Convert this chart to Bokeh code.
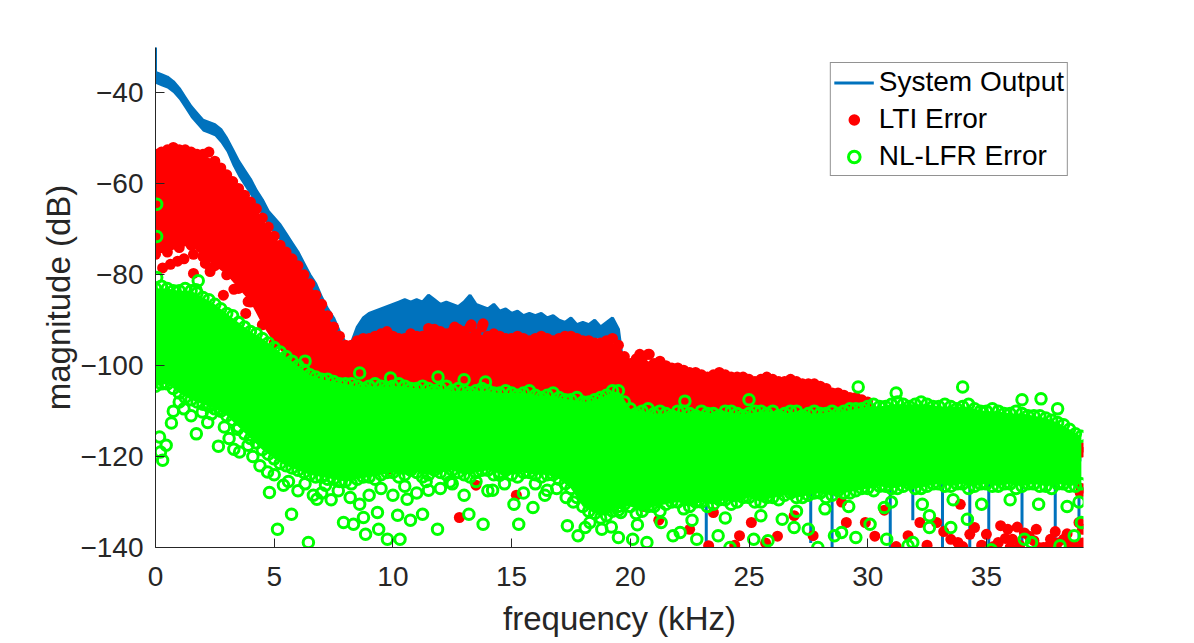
import numpy as np
from bokeh.plotting import figure
from bokeh.models import Range1d, Legend, LegendItem, FixedTicker
from bokeh.embed import file_html
from bokeh.resources import INLINE

# ---------------- data ----------------
x_ticks = [0, 5, 10, 15, 20, 25, 30, 35]
y_ticks = [-140, -120, -100, -80, -60, -40]
y_tick_labels = ["\u2212140", "\u2212120", "\u2212100", "\u221280", "\u221260", "\u221240"]

env_f = np.round(np.arange(0, 39.001, 0.5), 2)      # 79 frequencies (kHz)
mid_f = np.round(np.arange(0.25, 38.8, 0.5), 2)      # 78 frequencies (kHz)
blue_f = np.round(np.arange(0, 39.001, 0.25), 2)     # 157 frequencies (kHz)

# System Output (blue line), upper / lower extent of the dense trace
blue_hi = [
    -35.5, -36, -36.5, -37.5, -39, -41, -43, -44.5, -46, -46.5, -47, -48,
    -50, -52.5, -55, -57, -59, -61.5, -63.5, -66, -67.5, -69, -71, -73,
    -75, -77.5, -80, -82, -85, -87.5, -89.5, -92.5, -95, -95, -91.5, -89.5,
    -88.5, -88, -87.5, -87, -86.5, -86, -85.5, -86, -85.5, -86, -84.5, -85.5,
    -86.5, -86, -86.5, -87, -86, -84.5, -86.5, -87, -87.5, -86.5, -88, -87.5,
    -88.5, -88, -89, -88.5, -89, -88.5, -89.5, -89, -90, -90.5, -89.5, -91,
    -90.5, -91, -90, -91.5, -90.5, -89.5, -92, -102, -100, -97.5, -99, -103,
    -102, -100, -104, -106,
    -111, -112, -113, -112, -113, -112, -114, -113, -112, -113, -114, -112,
    -113, -114, -112, -113, -114, -113, -112, -114, -113, -112, -114, -113,
    -112, -114, -113, -112, -113, -112, -114, -113, -112, -113, -112, -112,
    -112, -112, -113, -112, -112, -112, -113, -112, -112, -113, -112, -113,
    -113, -112, -113, -112, -113, -114, -113, -112, -113, -114, -113, -115,
    -114, -115, -116, -115, -116, -117, -118, -119, -119,
]
blue_lo = [
    -38, -38.5, -39, -40, -41.5, -43.5, -45.5, -47, -48.5, -49, -49.5, -51,
    -53, -56, -58.5, -60.5, -62.5, -65, -67, -69.5, -71, -72.5, -74.5, -76.5,
    -78.5, -81, -83.5, -86, -88.5, -91, -93, -96, -97.5, -97.5, -95, -94,
    -94, -94, -94, -94, -94, -94, -94, -94, -94, -94, -94, -94,
    -94, -94, -94, -94, -94, -94, -94, -94, -94, -94, -94, -94,
    -94, -94, -94, -94, -94, -94, -94, -94, -94, -94, -94, -94,
    -94, -94, -94, -94, -94, -94, -97, -104, -103, -101, -102, -105,
    -104, -103, -106, -108,
    -119, -121, -120, -122, -120, -121, -122, -120, -121, -122, -120, -121,
    -122, -120, -121, -122, -120, -121, -122, -120, -121, -120, -122, -121,
    -120, -122, -121, -120, -122, -121, -120, -122, -121, -120, -122, -121,
    -120, -122, -121, -120, -122, -121, -120, -122, -121, -120, -122, -121,
    -120, -122, -121, -120, -122, -121, -120, -122, -121, -120, -122, -121,
    -120, -122, -121, -120, -122, -121, -120, -122, -121,
]
dc_f = [0.0, 0.0]
dc_v = [-28.0, -37.0]
spike_f = [23.2, 24.3, 27.6, 28.5, 30.2, 30.95, 31.9, 33.15, 34.3, 35.1, 36.5, 37.9, 38.9]
spike_top = [-121, -121, -121, -121, -121, -121, -121, -121, -121, -121, -121, -121, -121]
spike_bot = [-140, -130, -139, -140, -127, -140, -134, -140, -140, -140, -140, -140, -140]

# LTI Error (red dots): upper edge, lower edge, fringe points
red_top = [
    -53.5, -52.5, -52.5, -53, -53.5, -55, -58, -61, -64, -67.5,
    -71.5, -75, -78, -82, -86.5, -91.5, -95.5, -94.5, -94, -93,
    -93.5, -94, -93.5, -93, -92.5, -92.5, -92.5, -93, -93.5, -93.5,
    -94, -94, -94, -94, -94, -93.5, -94.5, -95, -94.5, -95.5,
    -99.5, -98.5, -99.5, -100, -100.5, -101.5, -102, -102, -102, -102.5,
    -103, -103, -103, -103.5, -103.5, -104, -104.5, -106, -106.5, -107,
    -108, -112, -113, -113, -113, -113, -113, -113, -113, -113,
    -113, -113, -113, -114, -116, -116, -117, -118, -119,
]
red_top_mid = [
    -53, -52, -52.5, -53.5, -53, -56.5, -59.5, -62.5, -65.5, -69.5,
    -73.5, -76.5, -80, -84.5, -89, -93.5, -95.5, -94, -93.5, -92.5,
    -94, -93, -93.5, -92, -93, -92, -91.5, -91.5, -93, -94,
    -93.5, -94.5, -93.5, -94.5, -93.5, -94, -94.5, -95, -94, -98,
    -98.5, -97.5, -99, -100.5, -101, -101.5, -102.5, -101.5, -102.5, -102.5,
    -103.5, -102.5, -103.5, -103, -104, -104, -105, -106, -107, -107.5,
    -110, -113, -113, -113, -113, -113, -113, -113, -113, -113,
    -113, -113, -113.5, -115, -116, -116.5, -117.5, -118.5,
]
red_bot = [
    -75.5, -75, -74, -73.5, -76, -78, -80, -83, -86, -91,
    -95, -98, -101, -103, -105, -110, -110, -110, -110, -110,
    -110, -110, -110, -110, -110, -110, -110, -110, -110, -110,
    -110, -110, -110, -110, -110, -110, -110, -110, -110, -110,
    -110, -110, -110, -110, -110, -110, -110, -110, -110, -110,
    -110, -110, -110, -110, -110, -110, -110, -110, -110, -110,
    -118, -118, -118, -118, -118, -118, -118, -118, -118, -118,
    -118, -118, -118, -118, -118, -118, -118, -118, -118,
]
r_out_f = [
    0.3, 0.63, 0.93, 1.2, 1.6, 1.6, 2.1, 2.3, 2.86, 3.3,
    3.8, 3.9, 4.0, 11.5, 12.6, 13.3, 13.8, 20.4, 20.8, 9.8,
    12.8, 13.5, 15.2, 19.5, 20.6, 21.2, 21.8, 22.5, 23.3, 23.5,
    24.4, 24.6, 25.1, 25.7, 26.2, 26.9, 27.7, 28.9, 29.1, 29.9,
    30.7, 31.7, 32.2, 32.9, 33.5, 33.8, 33.9, 34.3, 34.5, 34.8,
    35.0, 35.5, 35.6, 35.9, 36.1, 36.4, 36.8, 37.1, 37.2, 37.4,
    37.7, 37.9, 38.25, 38.5, 38.9, 38.95, 39.0, 33.2, 34.0, 35.3,
    36.0, 36.6, 37.0, 37.6, 38.0, 38.4, 38.7, 39.05, 39.05, 36.3,
    35.8, 32.5, 31.2, 30.3,
]
r_out_v = [
    -78.5, -77.7, -77.0, -76.5, -75.5, -79.7, -77.5, -79.3, -84.5, -83.2,
    -88.5, -85.9, -82.0, -91.8, -91.5, -91.0, -90.8, -97.5, -97.5, -122.8,
    -133.4, -126.3, -128.5, -130.0, -131.0, -134.0, -127.2, -136.0, -139.6, -132.3,
    -139.5, -137.4, -134.5, -139.0, -137.5, -133.0, -137.4, -130.0, -134.5, -134.5,
    -131.8, -137.4, -134.5, -134.5, -138.2, -138.9, -130.5, -137.1, -135.6, -139.5,
    -137.1, -138.9, -135.2, -136.0, -138.2, -139.5, -137.5, -136.0, -140.0, -140.0,
    -138.2, -136.5, -138.2, -139.5, -134.5, -127.9, -127.0, -136.5, -139.8, -139.8,
    -140.0, -136.8, -138.5, -139.8, -139.0, -137.0, -139.8, -139.0, -136.0, -135.5,
    -138.0, -139.5, -139.8, -137.5,
]

# NL-LFR Error (green circles): upper edge, lower edge, fringe, outliers
green_top = [
    -83, -83, -83.5, -83.5, -85, -86.5, -88.5, -90.5, -92.5, -94,
    -96, -98, -100, -102, -103, -103.5, -104, -104.5, -104.5, -104.5,
    -104.5, -104.5, -105, -105, -105, -105.5, -105.5, -105.5, -105.5, -106,
    -106, -106, -106.5, -106.5, -107, -107.5, -108, -107.5, -106.5, -105.5,
    -109.5, -110, -110.5, -110.5, -110, -110.5, -110, -110.5, -110, -110.5,
    -110.5, -110, -110, -110.5, -110, -110.5, -110.5, -110, -110, -109.5,
    -109, -109, -108.5, -108.5, -108.5, -108.5, -109, -109, -109, -109.5,
    -110, -110, -110.5, -110.5, -111, -111.5, -112.5, -114, -115.5,
]
green_top_mid = [
    -82.5, -83.5, -83, -84, -85.5, -87.5, -89, -91.5, -93, -95,
    -97, -99, -101, -102.5, -103, -104, -104, -105, -104, -105,
    -104, -105, -104.5, -105.5, -104.5, -105, -106, -105, -106, -105.5,
    -106.5, -105.5, -107, -106, -107.5, -107, -108, -107, -105.5, -108,
    -110.5, -109.5, -110, -111, -110, -111, -110.5, -111, -110, -111,
    -110, -110.5, -111, -110, -111, -110, -110.5, -110.5, -109.5, -109.5,
    -108.5, -109, -108, -109, -108, -109, -108.5, -109.5, -108.5, -110,
    -109.5, -110.5, -110, -111, -111, -112, -113, -115,
]
green_bot = [
    -104.5, -104, -106, -107.5, -108.5, -109.5, -111, -113.5, -116, -118.5,
    -120.5, -122, -123, -124, -124.5, -125, -125.5, -125, -124.5, -124,
    -123.5, -124, -123.5, -124, -123.5, -123, -124, -123.5, -123, -123.5,
    -124, -123.5, -124, -124, -125, -127, -131, -132.5, -133, -131,
    -131, -132, -131, -130.5, -130, -131, -130, -130.5, -129.5, -130,
    -129, -130, -129, -128.5, -129, -128.5, -128, -128.5, -128, -127.5,
    -127, -126.5, -127, -126.5, -127, -126.5, -126, -126.5, -126, -126.5,
    -126, -126.5, -126, -126.5, -126, -126.5, -126, -126.5, -126,
]
green_bot_mid = [
    -104, -105, -107, -108, -109, -110, -112, -115, -117, -119.5,
    -121.5, -122.5, -123.5, -124.5, -125, -125.5, -126, -124.5, -125, -123.5,
    -124.5, -123, -124.5, -123, -124, -123.5, -124.5, -123, -124, -123,
    -124.5, -123.5, -124.5, -124, -126, -129, -132, -133.5, -132, -130.5,
    -132.5, -131, -132, -130, -131.5, -130, -131, -129.5, -130.5, -129,
    -130, -129, -129.5, -128, -129, -128, -129, -127.5, -128, -127,
    -127.5, -126.5, -127, -126, -127, -126, -126.5, -126, -127, -126,
    -126.5, -126, -127, -126, -126.5, -127, -126, -126.5,
]
gf_f = [
    1.2, 1.5, 2.2, 2.9, 3.1, 3.9, 4.1, 4.4, 5.0, 5.6,
    6.0, 6.3, 7.0, 7.4, 7.7, 8.2, 8.6, 9.0, 9.5, 10.0,
    10.5, 11.0, 11.4, 12.0, 12.5, 13.0, 13.5, 14.0, 14.7, 15.5,
    16.0, 16.4, 16.9, 17.6, 18.3, 18.8, 19.2, 20.3, 21.3, 22.6,
    24.0, 25.5, 27.0, 28.2, 29.2, 31.0, 32.3, 33.6, 34.8, 36.0,
    37.2, 38.4, 38.9,
]
gf_v = [
    -109.5, -111, -112.5, -113.5, -116, -117.5, -120, -122, -124, -125.5,
    -127.5, -126, -128, -129.5, -127.5, -129, -130.5, -128.5, -127, -128.5,
    -126.5, -128, -125.5, -127, -126, -128.5, -125.5, -127.5, -126, -128,
    -126, -128.5, -127, -130, -134.5, -136, -135.5, -135, -134.5, -134,
    -133.5, -133, -132, -131.5, -131, -130, -130.5, -129.5, -130.5, -129.5,
    -130.5, -131, -130,
]
g_out_f = [
    0.05, 0.05, 0.05, 1.8, 1.7,
    0.17, 0.21, 0.3, 0.45, 0.67, 0.75, 1.0, 1.72, 1.97, 2.36,
    2.65, 2.7, 3.3, 3.54, 3.45, 4.72, 4.8, 5.39, 5.73, 5.14,
    6.44, 6.65, 6.8, 7.16, 7.92, 8.34, 8.85, 8.76, 9.35, 9.77,
    10.2, 9.4, 10.3, 10.6, 10.74, 11.25, 11.5, 11.88, 12.4, 13.2,
    13.8, 14.2, 14.5, 15.1, 15.3, 15.9, 16.5, 17.3, 17.35, 17.8,
    18.1, 19.5, 20.1, 20.7, 19.5, 19.6, 21.8, 22.1, 22.8, 23.7,
    24.2, 25.2, 25.8, 26.4, 26.9, 27.5, 27.9, 28.6, 28.9, 29.5,
    30.1, 30.8, 31.7, 31.9, 32.6, 33.5, 34.2, 35.2, 36.6, 36.9,
    38.1, 38.7, 39.0, 30.7, 32.6,
    9.9, 11.9, 13.0, 13.9, 29.6, 34.0, 31.2, 25.0, 22.3, 8.6,
    6.3, 36.5, 38.0, 37.3,
]
g_out_v = [
    -64.5, -71.6, -80.6, -81.3, -83.3,
    -115.7, -119, -120.8, -117.5, -112.6, -110, -108, -115, -110.2, -110.6,
    -117.7, -109.5, -118.4, -119, -114, -123.4, -127.9, -126.3, -132.7, -136,
    -138.9, -128.5, -129.4, -126.3, -134.5, -134.9, -137.1, -133.4, -132.3, -138.2,
    -132.9, -136, -138.2, -129.4, -134, -132.7, -127.4, -136, -125.6, -132.7,
    -134.9, -127.4, -124.1, -130.5, -134.9, -131.2, -127.4, -129, -135.2, -137.4,
    -135.6, -137.8, -138.2, -138.9, -131.8, -132.3, -137.4, -136.7, -138.2, -137.4,
    -140, -138.2, -138.5, -133.8, -135.6, -136, -140, -137.4, -136.7, -137.8,
    -134.9, -138.2, -139.6, -138.9, -135.6, -135.6, -133.8, -140.5, -138.2, -138.9,
    -139.6, -137.4, -134.5, -131.2, -133,
    -102.7, -102.5, -103.1, -103.6, -104.7, -104.7, -106, -107.5, -107.8, -101.6,
    -99, -107.5, -109.5, -107.3,
]

# ---------------- styling ----------------
BLUE = "#0072BD"
RED = "#FF0000"
GREEN = "#00FF00"
AX = "#262626"
FONT = "Liberation Sans"

p = figure(width=1190, height=640, output_backend="svg", toolbar_location=None,
           x_range=Range1d(0, 39.09), y_range=Range1d(-140, -30),
           min_border_left=155, min_border_right=107,
           min_border_top=47, min_border_bottom=93)
p.outline_line_color = None
p.xgrid.visible = False
p.ygrid.visible = False
p.background_fill_color = "white"
p.border_fill_color = "white"

# System Output
p.varea(x=blue_f, y1=blue_lo, y2=blue_hi, fill_color=BLUE)
blue_line = p.line(blue_f, blue_hi, line_color=BLUE, line_width=3)
p.line(dc_f, dc_v, line_color=BLUE, line_width=3)
p.segment(x0=spike_f, y0=spike_top, x1=spike_f, y1=spike_bot, line_color=BLUE, line_width=3)

# LTI Error
rkw = dict(marker="circle", size=11, fill_color=RED, line_color=None)
p.varea(x=env_f, y1=red_bot, y2=red_top, fill_color=RED)
red_sc = p.scatter(env_f, red_top, **rkw)
p.scatter(mid_f, red_top_mid, **rkw)
p.scatter(env_f, red_bot, **rkw)
p.scatter(r_out_f, r_out_v, **rkw)

# NL-LFR Error
p.varea(x=env_f, y1=green_bot, y2=green_top, fill_color=GREEN)
gkw = dict(marker="circle", size=10.5, fill_color=None, line_color=GREEN, line_width=3)
green_sc = p.scatter(env_f, green_top, **gkw)
p.scatter(mid_f, green_top_mid, **gkw)
p.scatter(env_f, green_bot, **gkw)
p.scatter(mid_f, green_bot_mid, **gkw)
p.scatter(gf_f, gf_v, **gkw)
p.scatter(g_out_f, g_out_v, **gkw)

# axes
for ax in (p.xaxis[0], p.yaxis[0]):
    ax.axis_line_color = AX
    ax.axis_line_width = 1
    ax.major_tick_line_color = AX
    ax.major_tick_in = 9
    ax.major_tick_out = 0
    ax.minor_tick_line_color = None
    ax.major_label_text_font = FONT
    ax.major_label_text_font_size = "28px"
    ax.major_label_text_color = AX
    ax.axis_label_text_font = FONT
    ax.axis_label_text_font_size = "33px"
    ax.axis_label_text_font_style = "normal"
    ax.axis_label_text_color = AX

p.xaxis.ticker = FixedTicker(ticks=x_ticks)
p.yaxis.ticker = FixedTicker(ticks=y_ticks)
p.yaxis.major_label_overrides = {float(t): l for t, l in zip(y_ticks, y_tick_labels)}
p.xaxis.axis_label = "frequency (kHz)"
p.yaxis.axis_label = "magnitude (dB)"
p.xaxis.major_label_standoff = 19
p.yaxis.major_label_standoff = 12
p.xaxis.axis_label_standoff = 11
p.yaxis.axis_label_standoff = 0

legend = Legend(items=[
    LegendItem(label="System Output", renderers=[blue_line]),
    LegendItem(label="LTI Error", renderers=[red_sc]),
    LegendItem(label="NL-LFR Error", renderers=[green_sc]),
], location="top_right")
legend.margin = 15
legend.padding = 3
legend.spacing = 5
legend.glyph_width = 40
legend.glyph_height = 29
legend.label_height = 29
legend.label_standoff = 5
legend.label_text_font = FONT
legend.label_text_font_size = "28px"
legend.label_text_color = "black"
legend.border_line_color = AX
legend.border_line_width = 1
legend.background_fill_color = "white"
legend.background_fill_alpha = 1.0
p.add_layout(legend)

open("out.html", "w").write(file_html(p, INLINE, title="spectrum"))
